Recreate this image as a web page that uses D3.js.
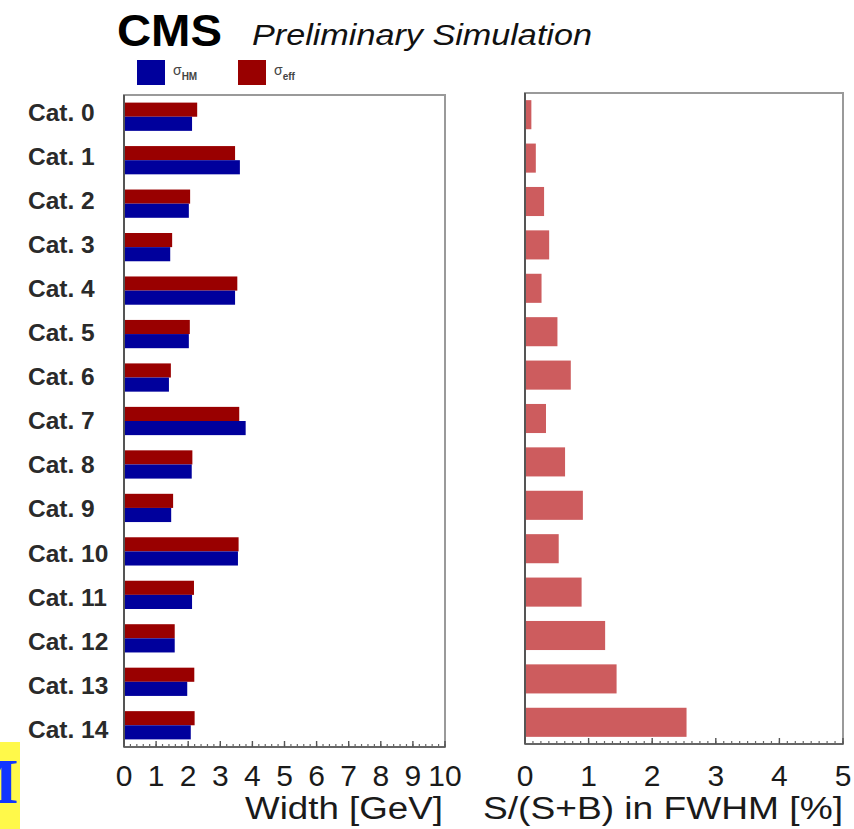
<!DOCTYPE html>
<html>
<head>
<meta charset="utf-8">
<script src="https://cdn.jsdelivr.net/npm/d3@7"></script>
<style>
  html, body { margin: 0; padding: 0; background: #fff; }
  svg { display: block; font-family: "Liberation Sans", Arial, Helvetica, sans-serif; }
</style>
</head>
<body>
<svg id="chart" width="854" height="829"></svg>
<script>
// Categories and per-category values
const categories = ["Cat. 0","Cat. 1","Cat. 2","Cat. 3","Cat. 4","Cat. 5","Cat. 6","Cat. 7",
                    "Cat. 8","Cat. 9","Cat. 10","Cat. 11","Cat. 12","Cat. 13","Cat. 14"];
// Mass resolution widths [GeV]
const sigmaHM  = [2.12, 3.61, 2.02, 1.44, 3.46, 2.02, 1.40, 3.79, 2.11, 1.47, 3.55, 2.12, 1.58, 1.97, 2.08];
const sigmaEff = [2.28, 3.46, 2.06, 1.50, 3.53, 2.05, 1.46, 3.59, 2.13, 1.53, 3.57, 2.18, 1.58, 2.19, 2.20];
// Signal purity S/(S+B) within FWHM [%]
const purity   = [0.10, 0.17, 0.30, 0.38, 0.26, 0.51, 0.72, 0.33, 0.63, 0.91, 0.53, 0.89, 1.26, 1.44, 2.54];
// Axis tick labels
const widthTicks  = [0,1,2,3,4,5,6,7,8,9,10];
const purityTicks = [0,1,2,3,4,5];

const svg = d3.select("#chart");
svg.append("rect").attr("width", 854).attr("height", 829).attr("fill", "#fff");

const blue = "#00009c", red = "#990000", pink = "#cd5c5e";
const frameCol = "#9a9a9a";

// ---------- Left panel: widths ----------
const L = {x0: 124, x1: 445, y0: 95, y1: 747};
const xW = d3.scaleLinear().domain([0, 10]).range([L.x0, L.x1]);
const yL = d3.scaleBand().domain(categories).range([L.y0, L.y1]).paddingInner(0.35).paddingOuter(0.175);
const half = yL.bandwidth() / 2;

const left = svg.append("g");
left.selectAll("rect.eff").data(categories).join("rect")
  .attr("x", xW(0)).attr("y", d => yL(d))
  .attr("width", (d, i) => xW(sigmaEff[i]) - xW(0)).attr("height", half)
  .attr("fill", red);
left.selectAll("rect.hm").data(categories).join("rect")
  .attr("x", xW(0)).attr("y", d => yL(d) + half)
  .attr("width", (d, i) => xW(sigmaHM[i]) - xW(0)).attr("height", half)
  .attr("fill", blue);

// ---------- Right panel: purity ----------
const R = {x0: 525, x1: 843, y0: 93, y1: 744};
const xP = d3.scaleLinear().domain([0, 5]).range([R.x0, R.x1]);
const yR = d3.scaleBand().domain(categories).range([R.y0, R.y1]).paddingInner(0.33).paddingOuter(0.165);

const right = svg.append("g");
right.selectAll("rect").data(categories).join("rect")
  .attr("x", xP(0)).attr("y", d => yR(d))
  .attr("width", (d, i) => xP(purity[i]) - xP(0)).attr("height", yR.bandwidth())
  .attr("fill", pink);

// ---------- Frames and ticks ----------
function frame(P, xs, majors, nsub) {
  const g = svg.append("g");
  g.append("rect").attr("x", P.x0).attr("y", P.y0)
    .attr("width", P.x1 - P.x0).attr("height", P.y1 - P.y0)
    .attr("fill", "none").attr("stroke", frameCol).attr("stroke-width", 2);
  g.append("line").attr("x1", P.x0).attr("x2", P.x0).attr("y1", P.y0).attr("y2", P.y1)
    .attr("stroke", "#555").attr("stroke-width", 2);
  g.append("line").attr("x1", P.x0).attr("x2", P.x1).attr("y1", P.y1).attr("y2", P.y1)
    .attr("stroke", "#666").attr("stroke-width", 2);
  const d = xs.domain();
  const step = (majors[1] - majors[0]) / nsub;
  const minors = d3.range(d[0], d[1] + step / 2, step);
  g.selectAll("line.minor").data(minors).join("line")
    .attr("x1", v => xs(v)).attr("x2", v => xs(v))
    .attr("y1", P.y1).attr("y2", P.y1 - 3)
    .attr("stroke", "#666").attr("stroke-width", 1.2);
  g.selectAll("line.major").data(majors).join("line")
    .attr("x1", v => xs(v)).attr("x2", v => xs(v))
    .attr("y1", P.y1).attr("y2", P.y1 - 6)
    .attr("stroke", "#555").attr("stroke-width", 1.4);
  g.selectAll("text.tick").data(majors).join("text")
    .attr("x", v => xs(v)).attr("y", 786)
    .attr("text-anchor", "middle").attr("font-size", 30).attr("fill", "#1a1a1a")
    .text(v => v);
}
frame(L, xW, widthTicks, 5);
frame(R, xP, purityTicks, 8);

// Axis titles
svg.append("text").attr("x", 443).attr("y", 819).attr("text-anchor", "end")
  .attr("font-size", 31).attr("fill", "#1a1a1a")
  .attr("textLength", 198).attr("lengthAdjust", "spacingAndGlyphs")
  .text("Width [GeV]");
svg.append("text").attr("x", 843).attr("y", 819).attr("text-anchor", "end")
  .attr("font-size", 31).attr("fill", "#1a1a1a")
  .attr("textLength", 360).attr("lengthAdjust", "spacingAndGlyphs")
  .text("S/(S+B) in FWHM [%]");

// Category labels
const yLab = d3.scalePoint().domain(categories).range([112, 729]);
svg.selectAll("text.cat").data(categories).join("text")
  .attr("x", 28).attr("y", d => yLab(d)).attr("dy", "0.36em")
  .attr("font-size", 24.5).attr("font-weight", "bold").attr("fill", "#2a2a2a")
  .text(d => d);

// Header
svg.append("text").attr("x", 117).attr("y", 46)
  .attr("font-size", 44).attr("font-weight", "bold").attr("fill", "#000")
  .attr("textLength", 105).attr("lengthAdjust", "spacingAndGlyphs")
  .text("CMS");
svg.append("text").attr("x", 252).attr("y", 45)
  .attr("font-size", 29).attr("font-style", "italic").attr("fill", "#111")
  .attr("textLength", 340).attr("lengthAdjust", "spacingAndGlyphs")
  .text("Preliminary Simulation");

// Legend
const legend = [
  {label: "σ", sub: "HM", color: blue, x: 137},
  {label: "σ", sub: "eff", color: red, x: 238}
];
const lg = svg.selectAll("g.leg").data(legend).join("g");
lg.append("rect").attr("x", d => d.x).attr("y", 60).attr("width", 28).attr("height", 25)
  .attr("fill", d => d.color);
const lt = lg.append("text").attr("x", d => d.x + 36).attr("y", 75)
  .attr("font-size", 14).attr("fill", "#444");
lt.append("tspan").text(d => d.label);
lt.append("tspan").attr("dy", 5).attr("font-size", 10).attr("font-weight", "bold").text(d => d.sub);

// Yellow corner tag, its letter partly cut by the tag edge
const defs = svg.append("defs");
defs.append("clipPath").attr("id", "tagClip")
  .append("rect").attr("x", 0).attr("y", 742).attr("width", 20).attr("height", 87);
svg.append("rect").attr("x", 0).attr("y", 742).attr("width", 20).attr("height", 87).attr("fill", "#fff94a");
svg.append("text").attr("clip-path", "url(#tagClip)")
  .attr("x", 18.5).attr("y", 803).attr("text-anchor", "end")
  .style("font-family", "'Liberation Serif', 'Times New Roman', serif")
  .attr("font-size", 64).attr("font-weight", "bold").attr("fill", "#1036ff")
  .text("M");
</script>
</body>
</html>
